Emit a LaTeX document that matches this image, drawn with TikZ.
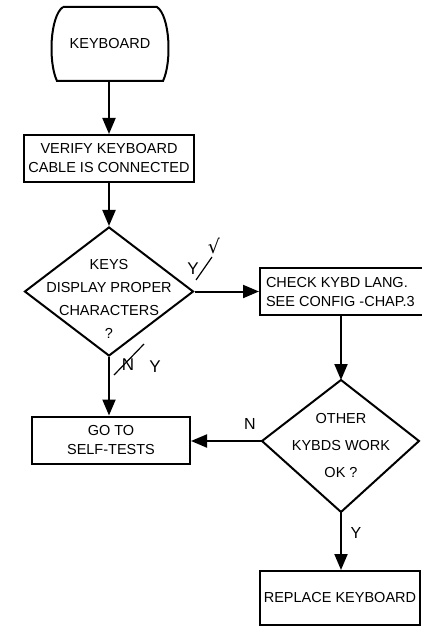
\documentclass[tikz,border=0pt]{standalone}
\usepackage{fontspec}
\setmainfont{Liberation Sans}
\newfontfamily\symfont{DejaVu Sans}
\usetikzlibrary{arrows.meta,shapes.geometric}
\begin{document}
\begin{tikzpicture}[x=1pt,y=-1pt,
  line width=2pt,
  every node/.style={font=\fontsize{14.5}{19}\selectfont},
  flow/.style={-{Triangle[width=13pt,length=16pt]}},
  box/.style={draw,rectangle,inner sep=0pt,align=center},
  dia/.style={draw,diamond,inner sep=0pt,align=center},
  lbl/.style={inner sep=0pt,font=\fontsize{16}{18}\selectfont},
  hand/.style={inner sep=0pt,font=\fontsize{17}{19}\selectfont},
  handline/.style={line width=1.2pt}]
\useasboundingbox (0,0) rectangle (422,628);
% terminal
\draw (63,7) -- (157,7) .. controls (170,16) and (172,62) .. (163,81)
  -- (57,81) .. controls (48,62) and (50,16) .. (63,7);
\node[inner sep=0pt] (kb) at (110,44) {KEYBOARD};
\coordinate (kbb) at (109,81);
% verify
\node[box,minimum width=170pt,minimum height=47pt] (ver) at (109,158.5)
  {VERIFY KEYBOARD\\CABLE IS CONNECTED};
% diamond 1
\node[dia,minimum width=169pt,minimum height=129pt] (d1) at (109,291.5) {};
\node[align=center,inner sep=0pt,font=\fontsize{14.5}{23}\selectfont] at (109,299) {KEYS\\DISPLAY PROPER\\CHARACTERS\\?};
% check
\node[box,minimum width=169pt,minimum height=47pt,anchor=west] (chk) at (259,291.5) {};
\node[inner sep=0pt,align=left,anchor=west] at (265,292) {CHECK KYBD LANG.\\SEE CONFIG -CHAP.3};
% go to
\node[box,minimum width=158pt,minimum height=47pt] (go) at (111,440) {GO TO\\SELF-TESTS};
% diamond 2
\coordinate (d2t) at (341,380);
\coordinate (d2r) at (419,441);
\coordinate (d2b) at (341,512);
\coordinate (d2l) at (262,441);
\draw (d2t) -- (d2r) -- (d2b) -- (d2l) -- cycle;
\node[align=center,inner sep=0pt,font=\fontsize{14.5}{27}\selectfont] (d2) at (341,446) {OTHER\\KYBDS WORK\\OK ?};
% replace
\node[box,minimum width=160pt,minimum height=54pt] (rep) at (340,598) {REPLACE KEYBOARD};
% connectors
\draw[flow] (kbb) -- (kbb |- ver.north);
\draw[flow] (ver.south -| d1.north) -- (d1.north);
\draw[flow] (d1.east) -- (d1.east -| chk.west);
\draw[flow] (d1.south) -- (d1.south |- go.north);
\draw[flow] (chk.south -| d2t) -- (d2t);
\draw[flow] (d2l) -- (d2l -| go.east);
\draw[flow] (d2b) -- (d2b |- rep.north);
% labels
\node[lbl] (ln) at (250,424) {N};
\node[lbl] (ly) at (356,533) {Y};
% handwritten marks
\node[hand] (h1) at (193,269) {Y};
\draw[handline] (196,280) -- (212,257);
\node[hand,font=\symfont\fontsize{19}{21}\selectfont] (h2) at (214,246) {√};
\node[hand] (h3) at (128,365) {N};
\draw[handline] (114,375) -- (144,344);
\node[hand] (h4) at (155,367) {Y};
\end{tikzpicture}
\end{document}
